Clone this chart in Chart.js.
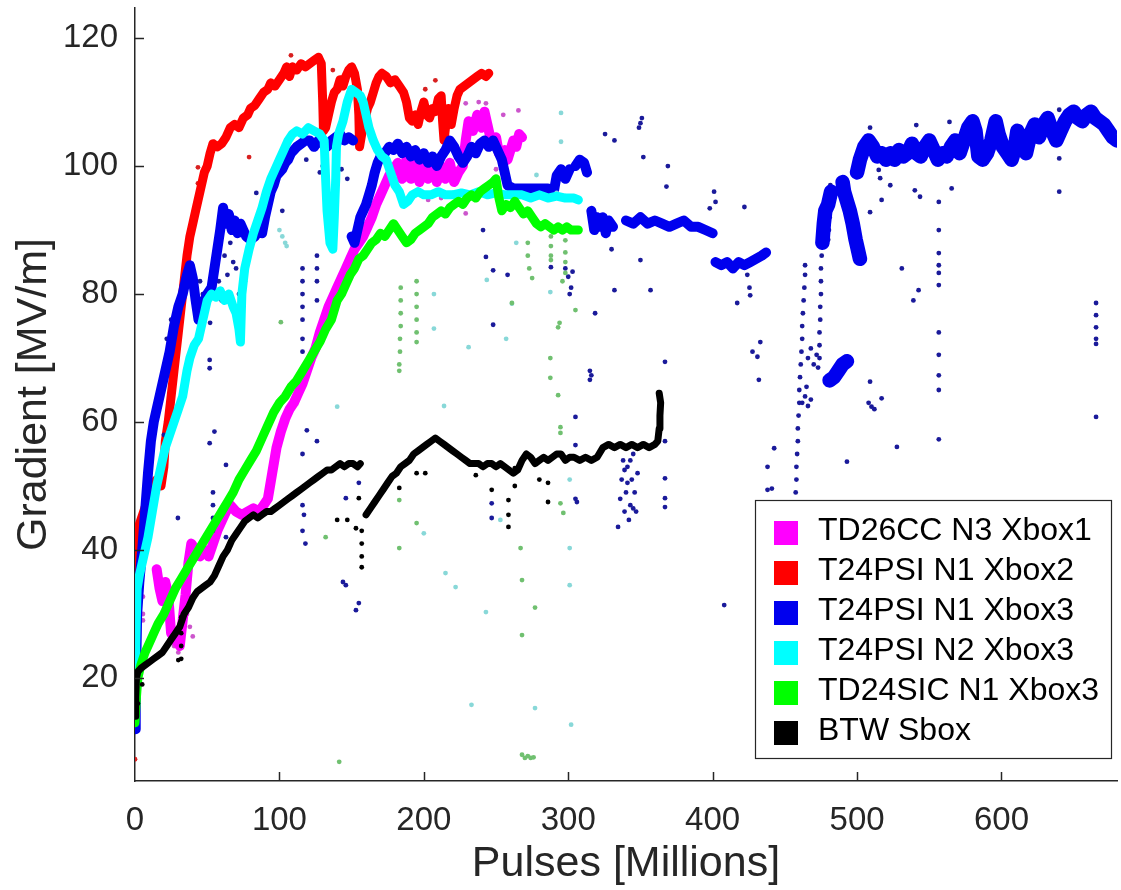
<!DOCTYPE html>
<html><head><meta charset="utf-8">
<script src="https://cdn.jsdelivr.net/npm/chart.js@4"></script>
<style>html,body{margin:0;padding:0;background:#fff}#wrap{width:1121px;height:890px;position:relative}</style>
</head><body><div id="wrap"><canvas id="c" width="1121" height="890"></canvas></div>
<script>
// ---------- data ----------
const seriesNames = ['TD26CC N3 Xbox1','T24PSI N1 Xbox2','T24PSI N1 Xbox3','T24PSI N2 Xbox3','TD24SIC N1 Xbox3','BTW Sbox'];
const xTicks = [0,100,200,300,400,500,600];
const yTicks = [20,40,60,80,100,120];
const xRange = [0,680];
const yRange = [3.9,124.7];
const xTitle = 'Pulses [Millions]';
const yTitle = 'Gradient [MV/m]';

// TD26CC N3 Xbox1 (magenta)
const td26ccBand = [[15,37],[17,34],[19,32],[21,35],[23,33],[25,27],[28,26],[31,25],[33,29],[35,33],[37,38],[39,41],[42,40],[45,39],[48,40],[51,39],[54,41],[57,43],[60,44.5],[63,46],[66,47],[70,46],[74,45.5],[78,46],[82,46.5],[86,46],[89,47],[92,48],[95,52],[98,56],[101,58.5],[104,60.5],[107,62],[110,63],[113,64.5],[116,66],[119,68],[122,70],[125,71.5],[128,74],[131,76],[134,78],[137,79.5],[140,81],[143,82.5],[146,84],[149,85.5],[152,87],[155,88],[158,89],[161,90.5],[164,92],[167,94],[170,95.5],[173,97],[176,98.5],[179,99.5],[182,100.5],[185,98],[188,101],[191,98],[194,100.5],[197,97.5],[200,100],[203,98],[206,100.5],[209,97.5],[212,100],[215,98],[218,100.5],[221,97.5],[224,99],[227,100],[229,104],[231,107],[234,105.5],[237,108],[240,106],[242,108.5],[244,106.5],[246,104.5],[248,103.5],[250,104.5],[252,102],[254,101.5],[256,102.5],[258,101],[260,102.5],[262,104],[264,103],[266,105],[268,104.5]];
const td26ccDots = [[5.5,32.7],[5.5,30],[5.5,29],[38,28],[40,26.5],[30,24],[27,25],[24,26],[36,30],[229,109.8],[243,109.8],[265.5,108.7],[229,92.6],[203,94.7],[235,96],[250,99.5],[238,110],[255,108],[212,95],[220,103]];

// T24PSI N1 Xbox2 (red)
const t24xb2Band = [[0,36],[1,39],[3,44],[6,46],[9,48],[12,50],[15,51],[18,50],[20,53],[21,57],[23,60],[25,64],[27,68],[30,74],[33,80],[36,86],[38,89],[40,91],[42,93],[44,95],[46,97],[48,99],[50,100],[52,102],[54,103.5],[57,103],[60,103.5],[63,104.5],[66,106],[69,106.5],[72,106],[75,107.5],[78,108],[80,109],[83,109.5],[86,110.5],[89,111.5],[92,112],[94,113],[97,112.5],[100,113.5],[103,114.5],[105,115.5],[107,114],[109,115.5],[112,115],[115,116],[118,115.5],[121,116],[124,116.5],[127,117],[129,116],[130,110],[130.5,105.5],[132,106],[134,108],[136,110],[138,111.5],[140,112],[142,113.5],[144,112.5],[146,114],[148,115],[150,115.5],[152,114.5],[154,112],[155,108],[155.5,103],[157,105],[159,107],[161,109],[163,110],[165,111.5],[167,113],[169,114],[171,114.5],[174,114],[177,113],[180,113.5],[183,112.5],[186,111.5],[188,110],[190,107.5],[192,107],[194,108],[196,106.5],[198,108.5],[200,110],[202,108],[204,107.5],[206,109],[208,108.5],[210,110.5],[212,111],[213,107],[214,104],[215,106],[217,109],[219,106.5],[221,109],[223,111],[225,112],[228,112.5],[231,113],[234,113.5],[237,114],[240,114.5],[243,114],[245,114.5]];
const t24xb2Dots = [[0,7.3],[43.6,99.8],[43.6,97.3],[79,101.4],[108,117.3],[137,115],[130,106.8],[155,106],[201,112],[208,113.4],[0,38],[2,42]];

// T24PSI N1 Xbox3 (blue) - early part (to 440 M)
const t24xb3Band = [[0,12],[0.5,18],[1,24],[1.5,30],[3,35],[5,40],[7,46],[9,52],[11,57],[13,60],[15,62],[17,64],[19,66],[21,68],[24,71],[27,75],[30,78],[33,80],[36,83],[38,84.5],[40,82.5],[42,79],[44,76],[46,77],[48,79],[50,80],[53,81],[55,84],[57,87],[59,90],[61,93.5],[63,91],[65,92.5],[67,90],[69,91.5],[71,89.5],[73,91],[75,90],[77,89],[80,88.5],[83,89],[86,90],[88,89.5],[90,92],[92,94],[94,96],[96,97],[98,98.5],[100,99],[102,99.5],[104,100.5],[106,101],[108,102],[110,102.5],[112,103],[115,103.5],[118,104],[121,104],[124,103],[127,104],[130,103.5],[133,103],[136,104],[139,104.5],[142,105],[145,104],[148,104.5],[151,104],
[152,null],
[150,89],[152,88],[154,90],[156,92],[158,93],[160,94],[162,95.5],[164,97],[166,99],[168,100.5],[170,101.5],[173,102],[176,103],[179,102.5],[182,103.5],[185,102],[188,103],[191,101.5],[194,102.5],[197,101],[200,102],[203,100.5],[206,101.5],[209,100],[212,101.5],[215,102.5],[218,104],[221,103],[224,101.5],[227,100.5],[230,101.5],[233,103],[236,102],[239,103.5],[242,104],[245,103],[248,104],[251,102.5],[254,101],[256,99],[258,97],[262,96.5],[268,96.5],[274,96.5],[280,96.5],[286,96.5],[290,96],[292,98.5],[295,99.5],[298,98],[301,99.5],
[303,null],
[305,100],[308,101],[311,100.5],[313,99],
[315,null],
[316,93],[318,90],[320,92],[322,90.5],[324,92],[326,89.5],[328,91.5],[331,90.5],
[335,null],
[340,91.5],[345,91],[350,92],[355,91],[360,91.5],[365,91],[370,90.5],[375,91],[380,91.5],[385,90.5],[390,90.5],[395,90],[400,89.5],
[401,null],
[402,85],[406,84.5],[410,85],[414,84],[418,85],[422,84.5],[426,85],[430,85.5],[434,86],[437,86.5]];
// T24PSI N1 Xbox3 (blue) - recovery part (from 470 M)
const t24xb3LateBand = [[476,88],[477,91],[478,93],[480,94],[482,96],
[485,null],
[481,66.5],[484,67],[487,68],[490,69],[493,69.5],
[495,null],
[490,97.5],[491,96],[493,94.5],[495,93],[497,91],[499,88.5],[501,86.5],[502,85.5],
[503,null],
[500,99],[502,101],[505,103],[508,104],[511,103],[514,101.5],[517,102],[520,101],[523,102],[526,101],[529,102.5],[532,101.5],[535,102],[538,103.5],[541,102],[544,101.5],[547,103],[550,104],[553,102.5],[556,101],[559,102],[562,101.5],[565,103],[568,104],[571,102],[574,104],[577,106],[580,107],[582,105.5],[584,101.5],[587,101],[590,102],[593,104],[596,107],[598,105],[601,103],[604,102],[607,101],[609,102.5],[611,105.5],[614,104],[617,102],[620,105],[623,106.5],[626,104.5],[629,106.5],[632,107.5],[635,105.5],[638,104],[641,105.5],[644,107],[647,108],[650,108.5],[653,107.5],[656,107],[659,108],[662,108.5],[665,107.5],[668,107],[671,106.5],[674,105.5],[677,104.5],[680,104]];
const t24xb3Dots = [[0,14],[0,17],[0,21],[0.5,27],[1,32],[22,73],[25,76],[20,58],[29.7,45],[45,82],[47,80],[49,78],[51.7,69.7],[51.7,68.4],[52,75.5],[54,49],[54,47],[54,45],[54,43],[55,58.5],[51.7,56.7],[63,53.3],[63,42],[56,84],[58,82],[60,79],[62,86],[64,83],[66,88],[68,85],[70,84],[72,80],[74,78],[76,82],[84,95.8],[102,93],[116,84],[116,82],[116,80],[116,78],[116,76],[116,73],[116,71],[116,55],[116,47],[117,45.5],[116,43],[118,41],[119,58.7],[126,86],[126,84],[126,82],[126,79],[126,57],[128,99],[130,100],[118.6,101],[140,98.5],[143,99.5],[147,98],[146,48.1],[146,34.5],[144,35],[153,30.6],[155,31.7],[155,50.5],[241,90],[243,85.8],[248,83.7],[248,75.2],[247,47.3],[247,45],[258,83],[288,84.2],[298,84],[300,82.7],[302,81],[303,83.5],[301,80],[305,60.8],[305,56.4],[305,48],[306,47.5],[315,68],[315,66.6],[316,67.3],[318.6,77],[330,87],[332,80.6],[325.5,105],[332,104],[350,106.7],[351,107.5],[349,106],[352,101.4],[350,85.3],[357,80.6],[367,69.4],[367,57],[367,51.2],[367,48.1],[367,46.7],[369,100],[368,96.8],[398,93.4],[401,96],[402,94.4],[408,31.4],[417,78.6],[422,93.6],[424,83],[425.5,81],[426,79.8],[427.6,71],[433,72.5],[432,66.6],[431,70.2],[442.6,55.9],[438,53],[438,49.4],[441,49.6],[334.5,43.6],[336,48],[337,51],[338,54],[339,46],[340,49],[341,53],[342,44.7],[343,47],[344,51],[345,55],[346,49],[347,46],[348,52],[341,50.5],[339,52.5],[343,54],[345,46.5],
[457,47],[457.5,49],[458,51],[458,53],[458.5,55],[459,57],[459,59],[459.5,61],[460,63],[460,65],[460.5,67],[461,69],[461.5,71],[462,73],[462,75],[462.5,77],[463,79],[463.5,81],[464,83],[464,84.5],
[462,63],[464,64],[466,62.5],[468,63.5],[465,65.5],[466,70],[468,71.5],[470,69],[472,70.5],[473,68.5],
[474,70],[474,72],[474,74],[474.5,76],[474.5,78],[475,80],[475,82],[475,84],[475.5,86],[475.5,88],
[480,88.5],[480.5,90],[481,92],[481,94],[481.5,96],[481.5,97],
[493,53.8],[509,66.3],[508,63],[510,62.4],[512,62],[517,63.7],[527.6,56.1],[509,106],[515,99.4],[516,98.1],[509,92.8],[517,94.7],[523,97],[541,106.4],[540,96.2],[543.6,95.2],[531,84],[539,79],[542.6,80.6],[556.6,94.4],[556.6,90],[556.6,86.4],[556.6,84.5],[556.6,83.3],[556.6,81.4],[556.6,74],[556.6,70.5],[556.6,67.3],[556.6,65],[556.6,57.3],[565.5,96.5],[564,106.9],[640,108.8],[640,101.2],[640,96],[665.5,78.6],[665.5,76.7],[665.5,74.8],[665.5,73],[665.5,72.2],[665.5,60.8]];

// T24PSI N2 Xbox3 (cyan)
const t24n2Band = [[0,20],[0.5,25],[1,30],[1.5,34],[3,36],[6,39],[9,42],[12,46],[15,50],[18,53],[21,56],[24,58],[27,60],[30,62],[33,64],[36,68],[38,70],[41,72],[44,73],[47,76],[50,79],[53,80],[56,79.5],[59,80.5],[62,79],[65,80],[68,78],[70,77],[72,74.5],[73,72.5],[74,80],[76,84],[79,87],[82,89.5],[85,91.5],[88,93.5],[91,96],[94,98],[97,99.5],[100,101],[103,102.5],[106,104],[109,105],[112,105.5],[116,105],[120,106],[124,105.5],[128,105],[131,104],[132,98],[133,93],[135,88],[137,87],[138,92],[139,98],[139.5,103],[141,105],[144,107],[147,110],[150,112],[153,111.5],[156,111],[158,110],[160,108],[162,106],[165,104],[168,102.5],[171,101.5],[174,101],[177,99],[180,97],[183,96],[186,94],[189,94.5],[192,95.5],[196,96],[200,95.5],[205,95.5],[210,96],[215,95.5],[220,95.5],[226,95.8],[232,95.5],[238,96],[244,95.5],[250,95.8],[256,95.5],[262,95.5],[268,95.5],[274,95],[280,95.5],[286,95],[292,95.3],[298,95],[304,95],[307,94.7]];
const t24n2Dots = [[0,22],[0,26],[1,21],[100,90],[102,89],[104,88],[105,87.5],[207,80],[231,71.7],[257,73],[261,78.5],[243.6,82.2],[264,88],[287.6,80.3],[278,98.6],[292,95.8],[295,103.8],[295,108.3],[140,62.4],[214,62.5],[207,74.6],[200,42.6],[215,36.4],[222,34.2],[243,30.3],[253,44.7],[301,51],[301,40.3],[301,34.5],[233,15.8],[277,15.3],[302,12.7],[155,111],[143,106],[162,106],[185,94.7]];

// TD24SIC N1 Xbox3 (green)
const td24sicBand = [[0,13],[1,17],[2,20],[4,22],[7,24],[10,25.5],[13,27],[16,28.5],[20,30],[24,32],[28,34],[32,35.5],[36,37],[40,38.5],[44,40],[48,41.5],[52,43],[56,44.5],[60,46],[64,47.5],[68,49],[72,51],[76,52.5],[80,54],[84,55.5],[88,57.5],[92,59.5],[96,61.5],[100,63],[104,64],[108,65.5],[112,66.5],[116,68],[120,69.5],[124,71],[128,72.5],[132,74.5],[136,76],[140,79],[143,80],[146,81.5],[149,83],[152,84],[155,85.5],[158,86],[161,87],[164,88],[167,88.5],[170,89.5],[173,89],[176,90],[179,91],[182,90],[185,89],[188,88],[191,88.5],[194,89.5],[197,90],[200,90.5],[203,91],[206,92],[209,92.5],[212,93],[215,92.5],[218,93.5],[221,94],[224,94.5],[227,94],[230,95],[233,95.5],[236,95],[239,96],[242,96.5],[245,97],[248,97.5],[250,98],[252,95],[254,93],[257,94],[260,93.5],[263,94.5],[266,93.5],[269,92.5],[272,93],[275,92],[278,91],[281,90.5],[284,91],[287,90.5],[290,90],[293,90.5],[296,90],[299,90.5],[302,90],[305,90],[307,90]];
const td24sicDots = [[184,81],[184,79],[184,77],[184,75],[183.5,73],[183.5,71],[183,69],[183,68],[195,82],[195,80],[195,78],[195,76],[195,74],[195,72.5],[288,89],[288,87.5],[288,86],[288,85.3],[298,88.4],[298,86.5],[298,85],[298,83.3],[296,82],[294,75.5],[293,74.8],[294.6,59.2],[294.6,58.3],[296.6,45.8],[294.6,47.3],[287.6,70],[287.6,66.9],[293,64.2],[305,77.5],[261,78.6],[183,47.8],[183,40.3],[195,44.2],[267,40.3],[268,35.3],[277,31],[268,26.7],[268,8],[270,7.5],[272,7.8],[274,7.5],[276,7.6],[141.4,6.9],[132,42],[101,75.6],[272,88],[272,86],[273,84],[275,82.5]];

// BTW Sbox (black)
const btwBand = [[0,14],[0.5,17],[1,20],[2,21],[4,21.5],[7,22],[10,22.5],[13,23],[16,23.5],[19,24],[22,25],[25,26],[28,27],[31,28],[34,30],[37,31],[40,32.5],[43,33.5],[46,34],[49,34.5],[52,35],[55,36],[58,37.5],[61,39],[64,40],[67,41.5],[70,42.5],[73,43.5],[76,44.5],[79,45],[82,45.5],[85,45],[88,45.5],[91,46],[94,46],[97,46.5],[100,47],[103,47.5],[106,48],[109,48.5],[112,49],[115,49.5],[118,50],[121,50.5],[124,51],[127,51.5],[130,52],[133,52.5],[136,52.5],[139,53],[142,53.5],[145,53],[148,53.5],[151,53.5],[154,53],[156,53.5],
[158,null],
[160,45.5],[163,46.5],[166,47.5],[169,48.5],[172,49.5],[175,50.5],[178,51.5],[181,52],[184,53],[187,53.5],[190,54],[193,55],[196,55.5],[199,56],[202,56.5],[205,57],[208,57.5],[211,57],[214,56.5],[217,56],[220,55.5],[223,55],[226,54.5],[229,54],[232,53.5],[235,53.5],[238,53.5],[241,53],[244,53.5],[247,53.5],[250,53],[253,53.5],[256,53],[259,52.5],[262,52],[265,52.5],[268,54],[271,55],[274,54.5],[277,53.5],[280,54],[283,54.5],[286,54],[289,54.5],[292,55],[295,55],[298,54],[301,54.5],[304,54.5],[308,54],[312,54.5],[316,54],[320,54.5],[324,56],[328,56.5],[332,56],[336,56.5],[340,56],[344,56.5],[348,56],[352,56.5],[356,56],[360,56.5],[362,57],[363,59],[363.5,61],[364,63],[363,64.5]];
const btwDots = [[0,15],[0,16.5],[0,18],[1,14],[2,16],[5,19],[32,29.5],[32,27],[32,25],[32,23],[30,22.8],[155,48.1],[157,43],[157,41],[157,39],[157,37.3],[153,43.4],[147,44.7],[140,44.7],[183,49.7],[195,52],[201,52],[236,51.7],[247,49.4],[258.6,47.8],[258.6,45.5],[258.6,43.6],[263,52.8],[263,50],[286,50.5],[286,47.5],[280,51]];

// ---------- styling ----------
const FONT = "'Liberation Sans', Arial, Helvetica, sans-serif";
const INK = '#262626';
const palette = [
  {band:'#ff00ff', dot:'#cc55cc', w:10},
  {band:'#ff0000', dot:'#d82020', w:9},
  {band:'#0000ee', dot:'#1a1a9a', w:10},
  {band:'#00ffff', dot:'#88d8d8', w:9},
  {band:'#00ff00', dot:'#70c070', w:9},
  {band:'#000000', dot:'#000000', w:7}
];
const bands = [[td26ccBand],[t24xb2Band],[t24xb3Band,t24xb3LateBand],[t24n2Band],[td24sicBand],[btwBand]];
const bandWidthScale = [[1],[1],[1,1.45],[1],[1],[1]];
const dots  = [td26ccDots,t24xb2Dots,t24xb3Dots,t24n2Dots,td24sicDots,btwDots];
const toXY = arr => arr.map(p => ({x:p[0], y:p[1]}));

const datasets = [];
bands.forEach((group,i) => {
  const ord = 5 - i;
  group.forEach((b,k) => {
    datasets.push({label:seriesNames[i], data:toXY(b), showLine:true, pointRadius:0, borderColor:palette[i].band, backgroundColor:palette[i].band, borderWidth:palette[i].w*bandWidthScale[i][k], borderJoinStyle:'round', borderCapStyle:'round', spanGaps:false, order:ord});
  });
  datasets.push({label:seriesNames[i]+' pts', data:toXY(dots[i]), showLine:false, pointRadius:2.4, pointBorderWidth:0, backgroundColor:palette[i].dot, borderColor:palette[i].dot, order:ord});
});

const decor = {
  id:'decor',
  afterDraw(chart){
    const {ctx, scales:{x, y}} = chart;
    ctx.save();
    ctx.strokeStyle = INK; ctx.lineWidth = 1.5;
    xTicks.forEach(v => { if (v === xRange[0]) return; const px = Math.round(x.getPixelForValue(v))+0.5; ctx.beginPath(); ctx.moveTo(px, y.bottom); ctx.lineTo(px, y.bottom-9); ctx.stroke(); });
    yTicks.forEach(v => { const py = Math.round(y.getPixelForValue(v))+0.5; ctx.beginPath(); ctx.moveTo(x.left, py); ctx.lineTo(x.left+9, py); ctx.stroke(); });
    // legend
    const L = 755, T = 500, W = 356, H = 258;
    ctx.fillStyle = '#fff'; ctx.fillRect(L, T, W, H);
    ctx.strokeStyle = INK; ctx.lineWidth = 1.2; ctx.strokeRect(L+0.5, T+0.5, W, H);
    ctx.font = '32px ' + FONT; ctx.textBaseline = 'middle'; ctx.textAlign = 'left';
    seriesNames.forEach((n,i) => {
      const cy = T + 33 + i*40;
      ctx.fillStyle = palette[i].band; ctx.fillRect(774, cy-12, 24, 24);
      ctx.fillStyle = '#000'; ctx.fillText(n, 818, cy-2);
    });
    ctx.restore();
  }
};

new Chart(document.getElementById('c'), {
  type:'scatter',
  data:{datasets},
  plugins:[decor],
  options:{
    responsive:false, animation:false, devicePixelRatio:1,
    layout:{padding:{top:8,left:0,right:0,bottom:0}},
    plugins:{legend:{display:false}, tooltip:{enabled:false}},
    scales:{
      x:{type:'linear', min:xRange[0], max:xRange[1],
        afterBuildTicks: s => { s.ticks = xTicks.map(v => ({value:v})); },
        afterFit: s => { s.height = 109; s.paddingLeft = 0; s.paddingRight = 0; },
        grid:{display:false, drawTicks:false, tickLength:0},
        border:{display:true, color:INK, width:1.5},
        ticks:{color:INK, font:{family:FONT, size:33}, padding:20, maxRotation:0, autoSkip:false},
        title:{display:true, text:xTitle, color:INK, font:{family:FONT, size:43}, padding:{top:0,bottom:0}}
      },
      y:{type:'linear', min:yRange[0], max:yRange[1],
        afterBuildTicks: s => { s.ticks = yTicks.map(v => ({value:v})); },
        afterFit: s => { s.width = 135; s.paddingTop = 0; s.paddingBottom = 0; },
        grid:{display:false, drawTicks:false, tickLength:0},
        border:{display:true, color:INK, width:1.5},
        ticks:{color:INK, font:{family:FONT, size:33}, padding:17, autoSkip:false},
        title:{display:true, text:yTitle, color:INK, font:{family:FONT, size:43}, padding:{top:8,bottom:0}}
      }
    }
  }
});
</script></body></html>
